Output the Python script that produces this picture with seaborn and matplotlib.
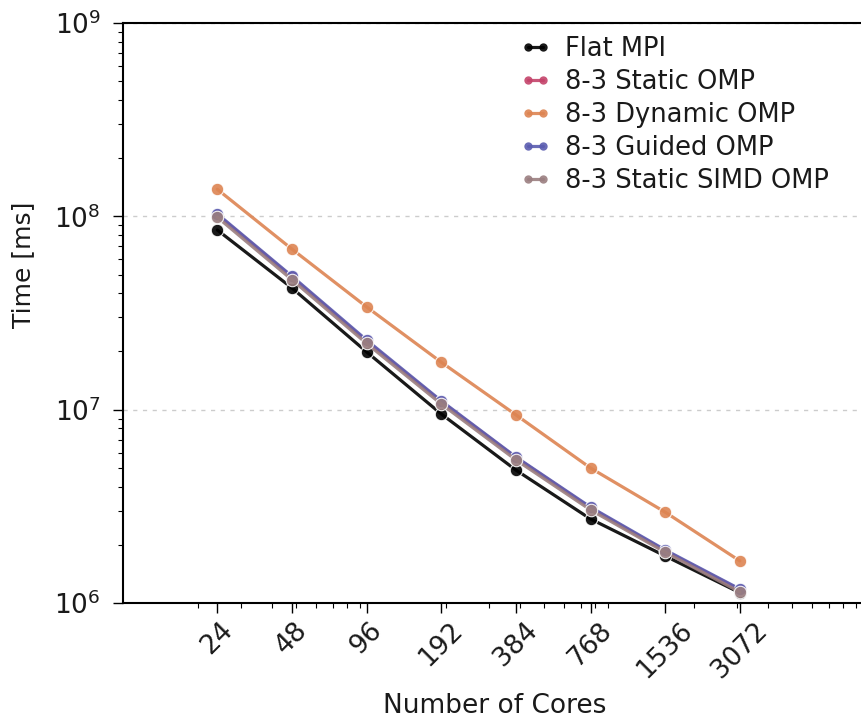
import numpy as np
import pandas as pd
import matplotlib
matplotlib.use("Agg")
import matplotlib.pyplot as plt
import seaborn as sns

cores = [24, 48, 96, 192, 384, 768, 1536, 3072]
series_names = ["Flat MPI", "8-3 Static OMP", "8-3 Dynamic OMP", "8-3 Guided OMP", "8-3 Static SIMD OMP"]
flat_mpi = [8.5e7, 4.26e7, 1.99e7, 9.5e6, 4.87e6, 2.72e6, 1.75e6, 1.13e6]
static_omp = [1.02e8, 4.85e7, 2.26e7, 1.10e7, 5.65e6, 3.10e6, 1.86e6, 1.17e6]
dynamic_omp = [1.38e8, 6.77e7, 3.4e7, 1.76e7, 9.4e6, 4.99e6, 2.95e6, 1.65e6]
guided_omp = [1.03e8, 4.9e7, 2.29e7, 1.11e7, 5.69e6, 3.13e6, 1.88e6, 1.18e6]
static_simd_omp = [9.9e7, 4.7e7, 2.2e7, 1.07e7, 5.5e6, 3.03e6, 1.83e6, 1.14e6]
colors = ["#000000", "#c4436a", "#dd8452", "#5a5cb0", "#9a7e80"]

values = [flat_mpi, static_omp, dynamic_omp, guided_omp, static_simd_omp]
df = pd.DataFrame({
    "cores": np.tile(cores, len(series_names)),
    "time": np.concatenate(values),
    "series": np.repeat(series_names, len(cores)),
})

sns.set_style("white")
plt.rcParams["font.family"] = ["DejaVu Sans"]
plt.rcParams["text.color"] = "#1a1a1a"
plt.rcParams["axes.labelcolor"] = "#1a1a1a"
plt.rcParams["xtick.color"] = "#1a1a1a"
plt.rcParams["ytick.color"] = "#1a1a1a"

fig = plt.figure(figsize=(8.61, 7.2), dpi=100)
W, H = 861, 720
ax = fig.add_axes([123 / W, 1 - 603 / H, (867 - 123) / W, (603 - 23) / H])

sns.lineplot(data=df, x="cores", y="time", hue="series", hue_order=series_names,
             palette=colors, marker="o", markersize=9, linewidth=2.3,
             markeredgecolor="white", markeredgewidth=0.8, ax=ax, alpha=0.9)

ax.set_xscale("log")
ax.set_yscale("log")
ax.set_xlim(10, 10000)
ax.set_ylim(1e6, 1e9)
ax.set_xticks(cores)
ax.set_xticklabels([str(c) for c in cores], rotation=45, ha="center", fontsize=19)
ax.tick_params(axis="y", labelsize=19, pad=9)
ax.tick_params(which="both", direction="out", bottom=True, left=True, color="black")
ax.tick_params(which="major", length=7, width=1)
ax.tick_params(which="minor", length=3.5, width=0.8)

ax.grid(True, axis="y", which="major", linestyle=(0, (3, 4)), color="#cccccc", linewidth=1)
for s in ax.spines.values():
    s.set_color("black")
    s.set_linewidth(1.5)

ax.set_xlabel("Number of Cores", fontsize=19, labelpad=7)
ax.set_ylabel("Time [ms]", fontsize=18)
ax.yaxis.set_label_coords(-0.118, 0.583)

leg = ax.legend(loc="upper left", bbox_to_anchor=(0.534, 0.977), frameon=False,
                fontsize=18.5, numpoints=2, handlelength=1.2, handletextpad=0.55,
                labelspacing=0.27, borderpad=0, borderaxespad=0)
for h in leg.legend_handles:
    h.set_markersize(6)
    h.set_markeredgewidth(0)

fig.savefig("out.png", dpi=100)
